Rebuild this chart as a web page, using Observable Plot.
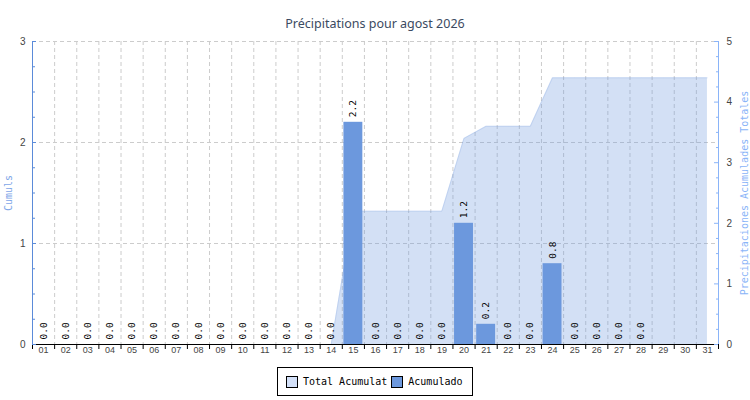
<!DOCTYPE html>
<html><head><meta charset="utf-8">
<script src="https://cdn.jsdelivr.net/npm/d3@7"></script>
<script src="https://cdn.jsdelivr.net/npm/@observablehq/plot@0.6"></script>
<style>
body{margin:0;background:#fff;}
#wrap{position:relative;width:750px;height:400px;overflow:hidden;}
#chart{position:absolute;left:0;top:0;}
#title{position:absolute;top:15px;left:0;width:750px;text-align:center;font:12.5px "Noto Sans";color:#3b4a61;}
#legend{position:absolute;left:277px;top:367px;width:194px;height:27px;border:1px solid #000;display:flex;align-items:center;font:10px "DejaVu Sans Mono";color:#000;background:#fff;}
.sw{width:10px;height:10px;border:1px solid #000;margin:0 5px 0 8px;}
</style></head>
<body><div id="wrap"><div id="chart"></div><div id="title">Précipitations pour agost 2026</div>
<div id="legend"><span class="sw" style="background:#d3e0f8"></span><span>Total Acumulat</span><span class="sw" style="background:#6c98dd;margin-left:4px"></span><span>Acumulado</span></div></div>
<script>
const days = d3.range(1, 32);
const dayLabels = ["01","02","03","04","05","06","07","08","09","10","11","12","13","14","15","16","17","18","19","20","21","22","23","24","25","26","27","28","29","30","31"];
const rain = [0,0,0,0,0,0,0,0,0,0,0,0,0,0,2.2,0,0,0,0,1.2,0.2,0,0,0.8,0,0,0,0];
const cumulative = [0,0,0,0,0,0,0,0,0,0,0,0,0,0,2.2,2.2,2.2,2.2,2.2,3.4,3.6,3.6,3.6,4.4,4.4,4.4,4.4,4.4,4.4,4.4,4.4];
const leftTicks = [0, 1, 2, 3];
const rightTicks = [0, 1, 2, 3, 4, 5];
const leftMax = 3, rightMax = 5;
const k = leftMax / rightMax;

const W = 750, H = 360, mL = 32, mR = 32, mT = 41, mB = 16;
const innerW = W - mL - mR, innerH = H - mT - mB;

const rainData = rain.map((v, i) => ({day: days[i], rain: v}));
const cumData = cumulative.map((v, i) => ({day: days[i], cum: v * k}));
const leftMinor = d3.range(0, leftMax + 0.001, 0.25).filter(v => v % 1 !== 0);
const rightMinor = d3.range(0, rightMax + 0.001, 0.25).filter(v => v % 1 !== 0).map(v => v * k);
const rightMajor = rightTicks.map(v => v * k);
const boundaries = d3.range(0, 32);

const leftBlue = "#5b8bd9", rightBlue = "#8ab4f8";

const chart = Plot.plot({
  width: W, height: H, marginLeft: mL, marginRight: mR, marginTop: mT, marginBottom: mB,
  x: {domain: [0, 31], axis: null},
  y: {domain: [0, leftMax], axis: null},
  style: {fontFamily: "Liberation Sans", background: "transparent", overflow: "visible"},
  marks: [
    Plot.ruleY([1, 2, 3], {stroke: "#cccccc", strokeDasharray: "4,3"}),
    Plot.ruleX(d3.range(1, 31), {stroke: "#cccccc", strokeDasharray: "4,3"}),
    Plot.areaY(cumData, {x: d => d.day - 0.5, y: "cum", fill: "#6c98dd", fillOpacity: 0.3}),
    Plot.lineY(cumData, {x: d => d.day - 0.5, y: "cum", stroke: "#6c98dd", strokeOpacity: 0.2, strokeWidth: 1}),
    Plot.rectY(rainData, {x1: d => d.day - 1, x2: d => d.day, y: "rain", fill: "#6c98dd", insetLeft: 1.6, insetRight: 1.6}),
    Plot.text(rainData, {x: d => d.day - 0.5, y: "rain", text: d => d.rain.toFixed(1), rotate: -90, textAnchor: "start", lineAnchor: "middle", dy: -5, fontFamily: "DejaVu Sans Mono", fontSize: 9.5, fill: "#000"}),
    // x axis
    Plot.ruleY([0], {stroke: "#000"}),
    Plot.tickX(boundaries, {x: d => d, stroke: "#000", insetTop: innerH, insetBottom: -5}),
    Plot.axisX(days.map(d => d - 0.5), {tickSize: 0, tickPadding: 2, tickFormat: d => dayLabels[Math.round(d + 0.5) - 1], fontSize: 9, fill: "#444"}),
    // left axis
    Plot.ruleX([0], {stroke: leftBlue}),
    Plot.tickY(leftTicks, {y: d => d, stroke: leftBlue, insetRight: innerW - 4}),
    Plot.tickY(leftMinor, {y: d => d, stroke: leftBlue, insetRight: innerW - 3}),
    Plot.axisY(leftTicks, {anchor: "left", tickSize: 0, tickPadding: 7, tickFormat: d => String(d), fontSize: 10, fill: "#444"}),
    Plot.text(["Cumuls"], {frameAnchor: "left", textAnchor: "middle", rotate: -90, dx: -24, fontFamily: "DejaVu Sans Mono", fontSize: 10, fill: "#7ea6e8"}),
    // right axis
    Plot.ruleX([31], {stroke: rightBlue}),
    Plot.tickY(rightMajor, {y: d => d, stroke: rightBlue, insetLeft: innerW - 4}),
    Plot.tickY(rightMinor, {y: d => d, stroke: rightBlue, insetLeft: innerW - 2}),
    Plot.axisY(rightMajor, {anchor: "right", tickSize: 0, tickPadding: 8, tickFormat: d => String(Math.round(d / k)), fontSize: 10, fill: "#444"}),
    Plot.text(["Precipitaciones Acumulades Totales"], {frameAnchor: "right", textAnchor: "middle", rotate: -90, dx: 26, fontFamily: "DejaVu Sans Mono", fontSize: 10, fill: rightBlue})
  ]
});
document.getElementById("chart").appendChild(chart);
</script>
</body></html>
